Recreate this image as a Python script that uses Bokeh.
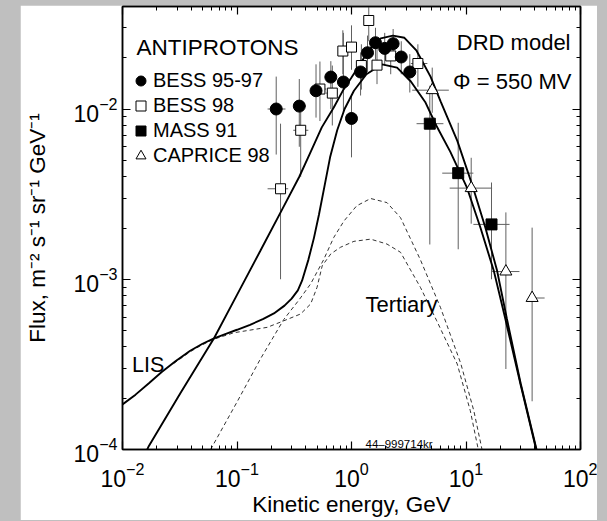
from bokeh.plotting import figure
from bokeh.models import LogAxis, LogTicker, Label, Legend, LegendItem
from bokeh.layouts import column
from bokeh.embed import file_html
from bokeh.resources import INLINE

# ---------------- data ----------------
bess9597_E = [0.22, 0.35, 0.49, 0.66, 0.85, 1.00, 1.20, 1.38, 1.62, 1.95, 2.31, 2.72, 3.23]
bess9597_F = [0.0100, 0.0104, 0.0128, 0.0154, 0.0144, 0.0088, 0.0165, 0.0214, 0.0245, 0.0227, 0.0242, 0.0202, 0.0165]
bess9597_lo = [0.0054, 0.0060, 0.0089, 0.0100, 0.0096, 0.0052, 0.0120, 0.0165, 0.0195, 0.0180, 0.0195, 0.0160, 0.0125]
bess9597_hi = [0.0155, 0.0150, 0.0183, 0.0191, 0.0280, 0.0122, 0.0215, 0.0270, 0.0300, 0.0280, 0.0295, 0.0250, 0.0210]
bess9597_Elo = [0.185, 0.31, 0.44, 0.60, 0.78, 0.93, 1.10, 1.30, 1.50, 1.80, 2.15, 2.50, 2.95]
bess9597_Ehi = [0.265, 0.40, 0.55, 0.73, 0.93, 1.08, 1.30, 1.47, 1.75, 2.10, 2.50, 2.95, 3.55]

bess98_E = [0.24, 0.36, 0.53, 0.68, 0.84, 1.00, 1.22, 1.415, 1.67, 2.20, 3.80]
bess98_F = [0.0034, 0.0075, 0.0131, 0.0124, 0.0219, 0.0231, 0.0180, 0.0331, 0.0181, 0.0205, 0.0185]
bess98_lo = [0.0010, 0.0040, 0.0085, 0.0080, 0.0160, 0.0170, 0.0130, 0.0250, 0.0140, 0.0160, 0.0135]
bess98_hi = [0.0082, 0.0105, 0.0190, 0.0180, 0.0290, 0.0310, 0.0240, 0.0450, 0.0230, 0.0260, 0.0240]
bess98_Elo = [0.185, 0.31, 0.45, 0.60, 0.78, 0.93, 1.12, 1.30, 1.55, 2.00, 3.30]
bess98_Ehi = [0.28, 0.42, 0.60, 0.75, 0.92, 1.08, 1.32, 1.52, 1.80, 2.45, 4.60]

mass91_E = [4.83, 8.55, 16.7]
mass91_F = [0.0082, 0.0042, 0.0021]
mass91_lo = [0.0016, 0.0015, 0.0010]
mass91_hi = [0.0137, 0.0083, 0.0037]
mass91_Elo = [3.7, 6.2, 11.6]
mass91_Ehi = [6.35, 11.6, 24.0]

caprice_E = [5.07, 11.1, 22.3, 37.8]
caprice_F = [0.0129, 0.00343, 0.00111, 0.000776]
caprice_lo = [0.0095, 0.00212, 0.000297, 0.000192]
caprice_hi = [0.0175, 0.00517, 0.00247, 0.00201]
caprice_Elo = [3.39, 7.2, 16.9, 35.3]
caprice_Ehi = [7.08, 16.9, 29.3, 48.6]

# solid curve with low-energy shoulder (labelled LIS)
lis_E = [0.010, 0.013, 0.017, 0.022, 0.029, 0.039, 0.050, 0.063, 0.080, 0.10, 0.13, 0.17, 0.21, 0.26,
         0.30, 0.34, 0.37, 0.42, 0.47, 0.52, 0.58, 0.65, 0.75, 0.87, 1.05, 1.35, 1.85, 2.5, 3.3, 4.4,
         5.5, 7.3, 10.2, 13.4, 17.5, 22.0, 30.0, 41.0]
lis_F = [1.84e-4, 2.1e-4, 2.45e-4, 2.85e-4, 3.3e-4, 3.8e-4, 4.18e-4, 4.5e-4, 4.78e-4, 5.05e-4, 5.4e-4,
         5.85e-4, 6.3e-4, 7.0e-4, 7.7e-4, 8.6e-4, 9.8e-4, 1.3e-3, 1.75e-3, 2.4e-3, 3.5e-3, 5.2e-3, 7.5e-3,
         1.0e-2, 1.28e-2, 1.6e-2, 1.83e-2, 1.75e-2, 1.45e-2, 1.1e-2, 8.0e-3, 5.6e-3, 3.45e-3, 2.0e-3,
         1.12e-3, 5.9e-4, 2.4e-4, 1.0e-4]

# modulated solid curve
mod_E = [0.0155, 0.017, 0.032, 0.063, 0.10, 0.16, 0.25, 0.35, 0.44, 0.55, 0.70, 0.85, 1.0, 1.2, 1.4, 1.8,
         2.3, 2.9, 3.7, 4.9, 6.0, 8.4, 11.3, 14.8, 18.7, 22.7, 30.0, 41.3]
mod_F = [9.2e-5, 1.05e-4, 2.14e-4, 4.5e-4, 8.1e-4, 1.47e-3, 2.6e-3, 4.0e-3, 5.6e-3, 7.8e-3, 1.02e-2, 1.3e-2,
         1.53e-2, 1.85e-2, 2.2e-2, 2.6e-2, 2.7e-2, 2.62e-2, 2.2e-2, 1.55e-2, 1.11e-2, 6.5e-3, 3.6e-3, 2.0e-3,
         1.12e-3, 5.9e-4, 2.45e-4, 1.0e-4]

# dashed curves (tertiary)
terA_E = [0.0588, 0.10, 0.16, 0.256, 0.35, 0.44, 0.57, 0.70, 0.86, 1.11, 1.47, 2.04, 2.68, 4.0, 6.0, 9.0, 11.7, 13.8]
terA_F = [1.0e-4, 1.9e-4, 3.4e-4, 5.8e-4, 7.6e-4, 9.4e-4, 1.3e-3, 1.76e-3, 2.2e-3, 2.7e-3, 2.98e-3, 2.82e-3,
          2.3e-3, 1.3e-3, 6.8e-4, 3.2e-4, 1.69e-4, 1.0e-4]
terB_E = [0.028, 0.039, 0.048, 0.063, 0.094, 0.184, 0.256, 0.359, 0.44, 0.50, 0.555, 0.66, 0.80, 1.05, 1.47,
          2.04, 2.68, 4.0, 5.55, 8.38, 10.9, 12.8]
terB_F = [3.2e-4, 3.75e-4, 4.07e-4, 4.45e-4, 4.85e-4, 5.22e-4, 5.7e-4, 6.25e-4, 7.16e-4, 8.96e-4, 1.2e-3,
          1.41e-3, 1.54e-3, 1.67e-3, 1.72e-3, 1.61e-3, 1.44e-3, 8.96e-4, 5.7e-4, 3.18e-4, 1.69e-4, 1.0e-4]

legend_labels = ["BESS 95-97", "BESS 98", "MASS 91", "CAPRICE 98"]
x_title = "Kinetic energy, GeV"
y_title = "Flux, m\u207b\u00b2 s\u207b\u00b9 sr\u207b\u00b9 GeV\u207b\u00b9"

# ---------------- figure ----------------
FONT = "Liberation Sans"
X0, X1 = 0.01, 100.0
Y0, Y1 = 1e-4, 0.04

p = figure(width=577, height=515, x_axis_type="log", y_axis_type="log",
           x_range=(X0, X1), y_range=(Y0, Y1), output_backend="svg", toolbar_location=None,
           min_border_left=102, min_border_right=17, min_border_top=1, min_border_bottom=71,
           background_fill_color="white", border_fill_color="white")
p.margin = (5, 10, 1, 20)
p.xgrid.visible = False
p.ygrid.visible = False
p.outline_line_color = "black"
p.outline_line_width = 1.5


def style_axis(ax, labels=True):
    ax.ticker = LogTicker(num_minor_ticks=10)
    ax.axis_line_color = "black"
    ax.axis_line_width = 1.5
    ax.major_tick_in = 8
    ax.major_tick_out = 0
    ax.minor_tick_in = 4
    ax.minor_tick_out = 0
    ax.major_tick_line_color = "black"
    ax.minor_tick_line_color = "black"
    ax.major_tick_line_width = 1.2
    ax.minor_tick_line_width = 1
    if labels:
        ax.major_label_text_font = FONT
        ax.major_label_text_font_size = "23px"
        ax.major_label_text_color = "black"
        ax.axis_label_text_font = FONT
        ax.axis_label_text_font_size = "22.5px"
        ax.axis_label_text_font_style = "normal"
        ax.axis_label_text_color = "black"
    else:
        ax.major_label_text_font_size = "1px"
        ax.major_label_text_alpha = 0
        ax.major_label_standoff = 0


style_axis(p.xaxis[0])
style_axis(p.yaxis[0])
p.xaxis[0].axis_label = x_title
p.xaxis[0].major_label_standoff = 12
p.xaxis[0].axis_label_standoff = 2
p.yaxis[0].axis_label = y_title
p.yaxis[0].major_label_standoff = 5
p.yaxis[0].axis_label_standoff = 21

top_ax = LogAxis()
style_axis(top_ax, labels=False)
p.add_layout(top_ax, "above")
right_ax = LogAxis()
style_axis(right_ax, labels=False)
p.add_layout(right_ax, "right")

ERR = "#606060"

# error bars
for E, F, lo, hi, Elo, Ehi in [
    (bess9597_E, bess9597_F, bess9597_lo, bess9597_hi, bess9597_Elo, bess9597_Ehi),
    (bess98_E, bess98_F, bess98_lo, bess98_hi, bess98_Elo, bess98_Ehi),
    (mass91_E, mass91_F, mass91_lo, mass91_hi, mass91_Elo, mass91_Ehi),
    (caprice_E, caprice_F, caprice_lo, caprice_hi, caprice_Elo, caprice_Ehi),
]:
    p.segment(x0=E, x1=E, y0=lo, y1=hi, line_color=ERR, line_width=1)
    p.segment(x0=Elo, x1=Ehi, y0=F, y1=F, line_color=ERR, line_width=1)

# curves
p.line(terA_E, terA_F, line_color="#333333", line_width=1, line_dash="4 3")
p.line(terB_E, terB_F, line_color="#333333", line_width=1, line_dash="4 3")
p.line(lis_E, lis_F, line_color="black", line_width=1.9)
p.line(mod_E, mod_F, line_color="black", line_width=1.9)

# markers
r_b98 = p.scatter(bess98_E, bess98_F, marker="square", size=10, fill_color="white",
                  line_color="black", line_width=1)
r_tri = p.scatter(caprice_E, caprice_F, marker="triangle", size=12, fill_color="white",
                  line_color="black", line_width=1)
r_mass = p.scatter(mass91_E, mass91_F, marker="square", size=11, fill_color="black", line_color="black")
r_b95 = p.scatter(bess9597_E, bess9597_F, marker="circle", size=12, fill_color="black", line_color="black")

legend = Legend(items=[LegendItem(label=legend_labels[0], renderers=[r_b95]),
                       LegendItem(label=legend_labels[1], renderers=[r_b98]),
                       LegendItem(label=legend_labels[2], renderers=[r_mass]),
                       LegendItem(label=legend_labels[3], renderers=[r_tri])],
                location=(6, 281.5), orientation="vertical",
                glyph_width=25, glyph_height=25, label_height=25, label_standoff=0,
                spacing=0, padding=0, margin=0, border_line_color=None,
                background_fill_alpha=0, label_text_font=FONT, label_text_font_size="20px",
                label_text_color="black")
p.add_layout(legend)


def at(px, py):
    """page pixel -> data coordinates (frame: x 122..580, y 6..449)"""
    return 10 ** (-2 + (px - 122) / 114.5), 10 ** (-4 + (449 - py) / 170.5)


def label(text, px, py, size, align="left"):
    x, y = at(px, py)
    p.add_layout(Label(x=x, y=y, text=text, text_font=FONT, text_font_size=size,
                       text_align=align, text_baseline="alphabetic", text_color="black"))


label("ANTIPROTONS", 136, 46.7, "22.5px")
label("DRD model", 570, 41.7, "22px", "right")
label("\u03a6 = 550 MV", 571, 80, "22px", "right")
label("LIS", 131.5, 364.3, "21.5px")
label("Tertiary", 365, 303.3, "22px")
label("44\u2013999714kr", 365, 443, "11.5px")

page = column(p, width=607, height=521, styles={"background-color": "#bfbfbf"})

open("out.html", "w").write(file_html(page, INLINE))
